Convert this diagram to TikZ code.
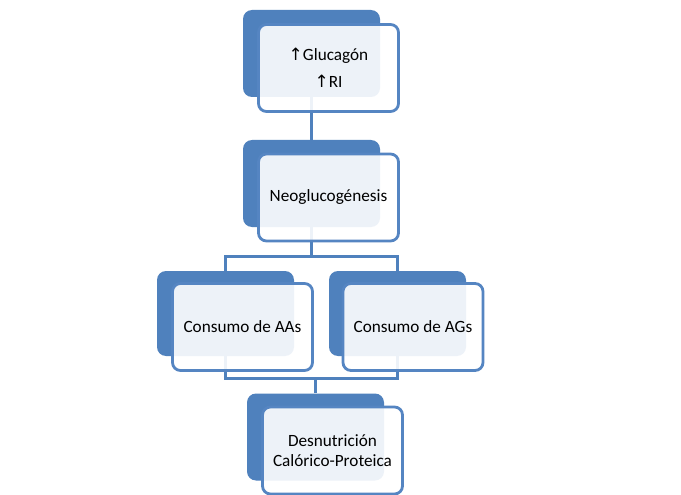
\documentclass[tikz,border=0pt]{standalone}
\usepackage{fontspec}
\setmainfont{Carlito}
\newfontfamily\arrowfont{DejaVu Sans}
\definecolor{accent}{HTML}{4F81BD}
\definecolor{edge}{HTML}{5585C2}
\begin{document}
\begin{tikzpicture}[x=1pt,y=-1pt,
  backbox/.style={fill=accent, draw=none, rounded corners=9pt, minimum width=137pt, minimum height=87pt, inner sep=0pt},
  frontbox/.style={draw=edge, line width=2.8pt, fill=white, fill opacity=0.9, text opacity=1, rounded corners=8pt,
    minimum width=140pt, minimum height=87pt, inner sep=0pt, align=center, font=\fontsize{17.2}{20}\selectfont},
  link/.style={draw=accent, line width=3pt}]
\useasboundingbox[fill=white] (0,0) rectangle (681,495);
% back boxes
\node[backbox] (bA) at (311.5,53.5) {};
\node[backbox] (bB) at (311.5,183.5) {};
\node[backbox, minimum height=85pt] (bC) at (225.5,313.5) {};
\node[backbox, minimum height=85pt] (bD) at (397.5,313.5) {};
\node[backbox] (bE) at (315.5,437) {};
% connectors
\coordinate (j1) at (311.5,256);
\coordinate (j2) at (315.5,378);
\draw[link] (bA.south) -- (bB.north);
\draw[link] (bB.south) -- (j1);
\draw[link] (bC.north) -- (bC.north |- j1) -- (bD.north |- j1) -- (bD.north);
\draw[link] (bC.south) -- (bC.south |- j2) -- (bD.south |- j2) -- (bD.south);
\draw[link] (j2) -- (bE.north);
% front boxes
\node[frontbox] (fA) at (328.5,68) {{\arrowfont\fontsize{17}{20}\selectfont ↑}Glucagón\\[7pt]{\arrowfont\fontsize{17}{20}\selectfont ↑}RI};
\node[frontbox] (fB) at (328.5,197.5) {Neoglucogénesis};
\node[frontbox] (fC) at (242.5,327) {Consumo de AAs};
\node[frontbox] (fD) at (413,327) {Consumo de AGs};
\node[frontbox] (fE) at (332.5,450.5) {Desnutrición\\Calórico-Proteica};
\end{tikzpicture}
\end{document}
